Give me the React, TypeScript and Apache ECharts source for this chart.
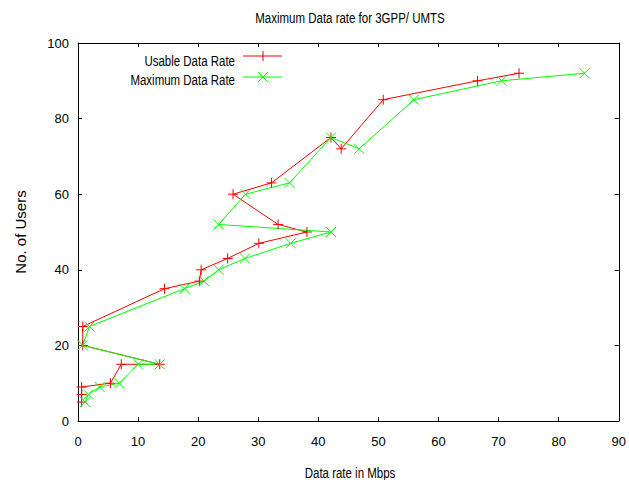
import React, { useEffect, useRef } from "react";
import * as echarts from "echarts";

const users = [5, 7, 9, 10, 15, 15, 20, 25, 35, 37, 40, 43, 47, 50, 52, 60, 63, 75, 72, 85, 90, 92];
const usableRate = [0.6, 0.6, 0.6, 5.4, 7.2, 13.6, 0.8, 0.8, 14.4, 20.2, 20.5, 24.9, 30.1, 38.1, 33.3, 25.8, 32.2, 42.1, 43.8, 50.8, 66.5, 73.4];
const maximumRate = [1.2, 1.7, 3.6, 6.9, 10.0, 13.6, 0.8, 1.9, 17.7, 21.0, 23.4, 27.8, 35.4, 42.1, 23.4, 27.9, 35.2, 42.1, 46.8, 55.9, 70.5, 84.3];
const seriesNames = ["Usable Data Rate", "Maximum Data Rate"];
const titleText = "Maximum Data rate for 3GPP/ UMTS";
const xName = "Data rate in Mbps";
const yName = "No. of Users";

const FONT = "'Liberation Sans', Arial, sans-serif";
const RED = "#ff0000";
const GREEN = "#00ff00";
const PLUS = "path://M0,5L10,5M5,0L5,10";
const CROSS = "path://M0,0L10,10M10,0L0,10";
const NARROW = 0.82;

export default function App() {
  const ref = useRef<HTMLDivElement>(null);
  useEffect(() => {
    if (!ref.current) return;
    const chart = echarts.init(ref.current, null, { renderer: "svg" });
    const axisLine = { show: true, onZero: false, lineStyle: { color: "#000", width: 1 } };
    const tick = { show: true, inside: true, length: 4, lineStyle: { color: "#000", width: 1 } };
    const label = { color: "#000", fontFamily: FONT, fontSize: 13 };
    const legendY = [56, 77];
    const legendText = [61, 80];
    const graphic: any[] = [
      { type: "text", x: 350, y: 18, scaleX: NARROW, style: { text: titleText, fill: "#000", font: `14px ${FONT}`, align: "center", verticalAlign: "middle" } },
      { type: "text", x: 350, y: 473, scaleX: NARROW, style: { text: xName, fill: "#000", font: `14px ${FONT}`, align: "center", verticalAlign: "middle" } },
      { type: "text", x: 20, y: 232, rotation: Math.PI / 2, style: { text: yName, fill: "#000", font: `15px ${FONT}`, align: "center", verticalAlign: "middle" } },
    ];
    seriesNames.forEach((n, i) => {
      const color = i === 0 ? RED : GREEN;
      const cy = legendY[i];
      graphic.push({ type: "text", x: 235, y: legendText[i], scaleX: NARROW, style: { text: n, fill: "#000", font: `14px ${FONT}`, align: "right", verticalAlign: "middle" } });
      graphic.push({ type: "line", shape: { x1: 243, y1: cy, x2: 282, y2: cy }, style: { stroke: color, lineWidth: 1 } });
      if (i === 0) {
        graphic.push({ type: "line", shape: { x1: 263, y1: cy - 5, x2: 263, y2: cy + 5 }, style: { stroke: color, lineWidth: 1 } });
      } else {
        graphic.push({ type: "line", shape: { x1: 258, y1: cy - 5, x2: 268, y2: cy + 5 }, style: { stroke: color, lineWidth: 1 } });
        graphic.push({ type: "line", shape: { x1: 268, y1: cy - 5, x2: 258, y2: cy + 5 }, style: { stroke: color, lineWidth: 1 } });
      }
    });
    chart.setOption({
      animation: false,
      backgroundColor: "#fff",
      grid: { left: 78, right: 7, top: 43, bottom: 59, containLabel: false },
      xAxis: [
        { type: "value", min: 0, max: 90, interval: 10, position: "bottom", axisLine, axisTick: tick, splitLine: { show: false }, axisLabel: { ...label, margin: 14 } },
        { type: "value", min: 0, max: 90, interval: 10, position: "top", axisLine, axisTick: tick, splitLine: { show: false }, axisLabel: { show: false } },
      ],
      yAxis: [
        { type: "value", min: 0, max: 100, interval: 20, position: "left", axisLine, axisTick: tick, splitLine: { show: false }, axisLabel: { ...label, margin: 9, padding: [5, 0, 0, 0] } },
        { type: "value", min: 0, max: 100, interval: 20, position: "right", axisLine, axisTick: tick, splitLine: { show: false }, axisLabel: { show: false } },
      ],
      graphic,
      series: [
        {
          name: seriesNames[0], type: "line",
          data: users.map((u, i) => [usableRate[i], u]),
          symbol: PLUS, symbolSize: 10,
          lineStyle: { color: RED, width: 1 },
          itemStyle: { color: RED, borderColor: RED, borderWidth: 1 },
        },
        {
          name: seriesNames[1], type: "line",
          data: users.map((u, i) => [maximumRate[i], u]),
          symbol: CROSS, symbolSize: 10,
          lineStyle: { color: GREEN, width: 1 },
          itemStyle: { color: GREEN, borderColor: GREEN, borderWidth: 1 },
        },
      ],
    });
    return () => chart.dispose();
  }, []);
  return <div ref={ref} style={{ position: "absolute", left: 0, top: 0, width: 629, height: 480 }} />;
}
